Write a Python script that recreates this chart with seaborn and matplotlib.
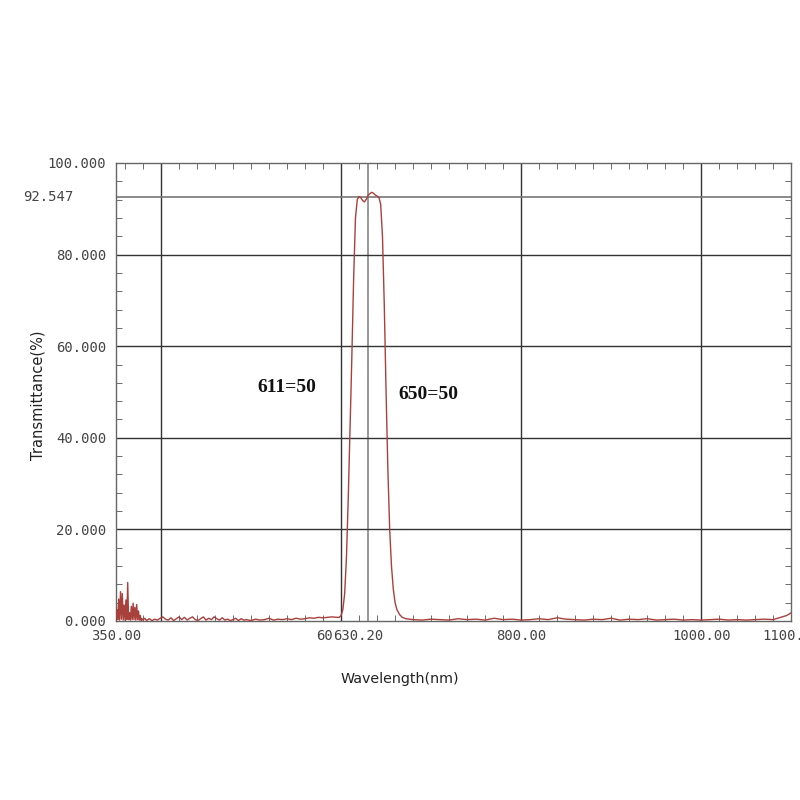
import numpy as np
import pandas as pd
import seaborn as sns
import matplotlib.pyplot as plt
import matplotlib.transforms as mtransforms
from matplotlib.ticker import MultipleLocator

# spectrum (nm, %T)
wl_short = [350, 351, 352, 353, 354, 355, 356, 357, 358, 359, 360, 361, 362, 363, 364,
            365, 366, 367, 368, 369, 370, 371, 372, 373, 374, 375, 376, 377, 378, 379,
            380, 382, 384]
t_short = [0.0, 2.5, 0.3, 4.8, 0.2, 6.4, 0.4, 6.0, 0.2, 3.5, 0.2, 4.6, 0.3, 8.4, 0.3,
           1.8, 0.2, 3.2, 0.3, 3.9, 0.3, 3.0, 0.2, 3.6, 0.3, 2.2, 0.2, 1.2, 0.1, 0.5,
           0.2, 0.6, 0.1]

wl_base1 = [387, 390, 393, 396, 399, 402, 405, 408, 411, 414, 417, 420, 423, 426, 429,
            432, 435, 438, 441, 444, 447, 450, 453, 456, 459, 462, 465, 468, 471, 474,
            477, 480, 483, 486, 489, 492, 495, 500, 505, 510, 515, 520, 525, 530, 535,
            540, 545, 550, 555, 560, 565, 570, 575, 580, 585, 590, 595]
t_base1 = [0.5, 0.1, 0.4, 0.2, 0.6, 0.9, 0.4, 0.2, 0.7, 0.1, 0.5, 0.9, 0.3, 0.8, 0.2,
           0.6, 0.9, 0.3, 0.1, 0.5, 0.9, 0.2, 0.6, 0.3, 0.9, 0.5, 0.2, 0.7, 0.2, 0.4,
           0.1, 0.3, 0.6, 0.1, 0.5, 0.2, 0.3, 0.1, 0.4, 0.2, 0.3, 0.6, 0.2, 0.4, 0.3,
           0.5, 0.3, 0.6, 0.4, 0.5, 0.7, 0.6, 0.8, 0.7, 0.8, 0.9, 0.8]

wl_band = [598, 600, 602, 604, 606, 608, 610, 611, 612, 614, 616, 618, 620, 622, 624,
           626, 628, 630, 632, 634, 636, 638, 640, 642, 644, 646, 648, 650, 652, 654,
           656, 658, 660, 662, 665, 668, 672]
t_band = [0.8, 1.2, 2.5, 6.0, 14.0, 27.0, 42.0, 50.0, 58.0, 75.0, 88.0, 92.0, 92.7, 92.4, 91.8,
          91.5, 92.1, 92.9, 93.3, 93.6, 93.4, 93.0, 92.8, 92.5, 91.0, 84.0, 69.0, 50.0, 33.0, 20.0,
          12.0, 7.0, 4.0, 2.5, 1.4, 0.8, 0.5]

wl_base2 = [680, 690, 700, 710, 720, 730, 740, 750, 760, 770, 780, 790, 800, 810, 820,
            830, 840, 850, 860, 870, 880, 890, 900, 910, 920, 930, 940, 950, 960, 970,
            980, 990, 1000, 1010, 1020, 1030, 1040, 1050, 1060, 1070, 1080, 1085, 1090,
            1095, 1100]
t_base2 = [0.3, 0.2, 0.4, 0.3, 0.2, 0.5, 0.3, 0.4, 0.2, 0.6, 0.3, 0.4, 0.2, 0.3, 0.5,
           0.3, 0.7, 0.4, 0.3, 0.2, 0.4, 0.3, 0.6, 0.2, 0.4, 0.3, 0.5, 0.2, 0.3, 0.4,
           0.2, 0.3, 0.2, 0.3, 0.4, 0.2, 0.3, 0.2, 0.3, 0.4, 0.3, 0.6, 0.9,
           1.2, 1.8]

df = pd.DataFrame({
    "wl": wl_short + wl_base1 + wl_band + wl_base2,
    "T": t_short + t_base1 + t_band + t_base2,
})

x_ticks = [350, 600, 630.2, 800, 1000, 1100]
x_labels = ["350.00", "600.00", "630.20", "800.00", "1000.00", "1100.00"]
y_ticks = [0, 20, 40, 60, 80, 100]
y_labels = ["0.000", "20.000", "40.000", "60.000", "80.000", "100.000"]
peak_t = 92.547

sns.set_style("white")
plt.rcParams["font.family"] = ["DejaVu Sans"]
mono = "DejaVu Sans Mono"

fig = plt.figure(figsize=(8, 8), dpi=100)
ax = fig.add_axes([0.145, 0.22375, 0.844, 0.5725])

# grid lines
for gx in [400, 600, 800, 1000]:
    ax.axvline(gx, color="#333333", lw=1.0, zorder=1)
ax.axvline(630.2, color="#888888", lw=1.2, zorder=1)
for gy in [20, 40, 60, 80]:
    ax.axhline(gy, color="#333333", lw=1.0, zorder=1)
ax.axhline(peak_t, color="#777777", lw=1.2, zorder=1)

sns.lineplot(data=df, x="wl", y="T", ax=ax, color="#a8403c", lw=1.0, zorder=3)

ax.set_xlim(350, 1100)
ax.set_ylim(0, 100)
ax.set_xticks(x_ticks)
ax.set_xticklabels(x_labels, fontfamily=mono, fontsize=10, color="#444444")
ax.set_yticks(y_ticks)
ax.set_yticklabels(y_labels, fontfamily=mono, fontsize=10, color="#444444")
ax.xaxis.set_minor_locator(MultipleLocator(20))
ax.yaxis.set_minor_locator(MultipleLocator(4))
ax.tick_params(which="major", direction="out", length=4, color="#555555", pad=3)
ax.tick_params(which="minor", direction="in", length=4, color="#555555",
               top=True, right=True, bottom=True, left=True)
ax.tick_params(axis="x", which="major", length=0, pad=6)
for s in ax.spines.values():
    s.set_color("#666666")
    s.set_linewidth(1.0)

# the 630.20 label sits over the 600.00 one, shifted a little left
lab = ax.get_xticklabels()[2]
lab.set_bbox(dict(facecolor="white", edgecolor="none", pad=0.5))
lab.set_transform(lab.get_transform() + mtransforms.ScaledTranslation(-10 / 100, 0, fig.dpi_scale_trans))

ax.set_xlabel("")
ax.set_ylabel("")
fig.text(0.047, 0.506, "Transmittance(%)", rotation=90, ha="center", va="center",
         fontsize=10.5, color="#222222")
fig.text(0.50, 0.151, "Wavelength(nm)", ha="center", va="center",
         fontsize=10.3, color="#222222")

ax.text(-0.063, peak_t, "92.547", transform=ax.get_yaxis_transform(),
        ha="right", va="center", fontfamily=mono, fontsize=10, color="#444444")

ax.text(540, 51, "611=50", ha="center", va="center", fontfamily="Liberation Serif",
        fontweight="bold", fontsize=14, color="#111111")
ax.text(697, 49.5, "650=50", ha="center", va="center", fontfamily="Liberation Serif",
        fontweight="bold", fontsize=14, color="#111111")

fig.savefig("out.png", dpi=100, facecolor="white")
